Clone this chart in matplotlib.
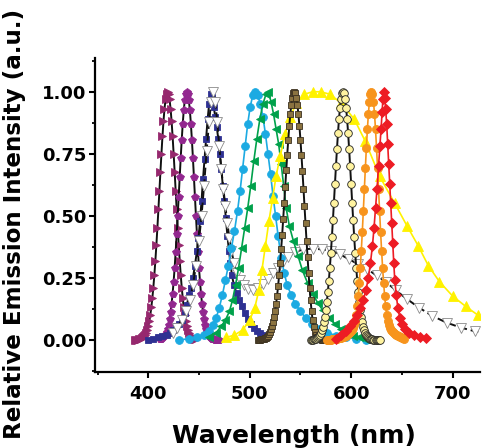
import matplotlib
matplotlib.use("Agg")
import matplotlib.pyplot as plt
from matplotlib.ticker import MultipleLocator

plt.rcParams['font.family'] = ['DejaVu Sans']

# ---------------- data ----------------
# 1: magenta right triangles, 1 nm grid starting at 387 nm
s1_start = 387
s1_y = [0.000, 0.001, 0.001, 0.001, 0.002, 0.003, 0.005, 0.007, 0.010, 0.015,
        0.021, 0.030, 0.042, 0.057, 0.076, 0.101, 0.131, 0.168, 0.211, 0.262,
        0.319, 0.383, 0.452, 0.526, 0.602, 0.678, 0.751, 0.820, 0.881, 0.931,
        0.969, 0.992, 1.000, 0.992, 0.969, 0.931, 0.881, 0.820, 0.751, 0.678,
        0.602, 0.526, 0.452, 0.383, 0.319, 0.262, 0.211, 0.168, 0.131, 0.101,
        0.076, 0.057, 0.042, 0.030, 0.021, 0.015, 0.010, 0.007, 0.005, 0.003, 0.002]

# 2: purple pentagons, 1 nm grid starting at 412 nm
s2_start = 412
s2_y = [0.003, 0.005, 0.007, 0.011, 0.016, 0.023, 0.033, 0.045, 0.062, 0.084,
        0.112, 0.146, 0.187, 0.235, 0.291, 0.355, 0.425, 0.500, 0.578, 0.657,
        0.735, 0.807, 0.872, 0.926, 0.966, 0.991, 1.000, 0.991, 0.966, 0.926,
        0.872, 0.807, 0.735, 0.657, 0.578, 0.500, 0.425, 0.355, 0.291, 0.235,
        0.187, 0.146, 0.112, 0.084, 0.062, 0.045, 0.033, 0.023, 0.016, 0.011,
        0.007, 0.005, 0.003, 0.002, 0.001, 0.001, 0.000, 0.000, 0.000]

# 3: navy squares
s3_x = [400, 405, 410, 414, 418, 421, 424, 427, 430, 433, 436, 438, 440, 442, 444,
        446, 448, 449.5, 451, 452.5, 454, 455.5, 457, 458.5, 460, 461.5, 463, 464.5,
        466, 467.5, 469, 470.5, 472, 473.5, 475, 476.5, 478, 479.5, 481, 482.5, 484.5,
        487, 489.5, 492, 495, 498, 501, 504, 507, 510, 513, 516]
s3_y = [0.0, 0.005, 0.01, 0.015, 0.022, 0.03, 0.04, 0.055, 0.065, 0.08, 0.11, 0.14,
        0.18, 0.21, 0.25, 0.30, 0.36, 0.41, 0.48, 0.56, 0.65, 0.73, 0.81, 0.89, 0.95,
        0.99, 0.98, 0.94, 0.90, 0.86, 0.81, 0.75, 0.69, 0.62, 0.56, 0.49, 0.42, 0.36,
        0.31, 0.26, 0.22, 0.19, 0.16, 0.135, 0.11, 0.085, 0.063, 0.048, 0.038, 0.03,
        0.02, 0.012]

# 4: white inverted triangles (dual emission)
s4_x = [424, 428, 433, 437, 441, 444, 447, 450, 452.5, 455, 457.5, 460, 462, 464,
        466, 468, 470, 472, 474, 476, 478, 480, 482, 484.5, 487, 490, 494, 498, 503,
        508, 513, 518, 523, 528, 533, 538, 545, 553, 562, 571, 580, 589, 598, 607,
        616, 625, 634, 644, 655, 667, 680, 694, 708, 722, 735]
s4_y = [0.027, 0.047, 0.08, 0.115, 0.16, 0.22, 0.30, 0.40, 0.50, 0.62, 0.76, 0.88,
        0.96, 1.0, 0.96, 0.88, 0.78, 0.69, 0.61, 0.54, 0.47, 0.41, 0.36, 0.31, 0.27,
        0.24, 0.22, 0.205, 0.20, 0.21, 0.225, 0.245, 0.27, 0.29, 0.315, 0.335, 0.355,
        0.365, 0.368, 0.365, 0.36, 0.345, 0.325, 0.305, 0.285, 0.26, 0.235, 0.20,
        0.165, 0.13, 0.097, 0.07, 0.05, 0.035, 0.025]

# 5: cyan circles
s5_x = [430, 440, 448, 455, 460, 464, 467, 470, 473, 476, 479, 482, 485, 488, 490.5,
        493, 495.5, 498, 500.5, 503, 505.5, 508, 510.5, 513, 515.5, 518, 520.5, 523,
        525.5, 528, 531, 534, 537, 541, 545, 550, 555, 561, 568, 576, 585, 595, 605, 615]
s5_y = [0.0, 0.005, 0.01, 0.02, 0.035, 0.06, 0.09, 0.13, 0.18, 0.24, 0.30, 0.37,
        0.44, 0.52, 0.60, 0.69, 0.78, 0.87, 0.94, 0.985, 1.0, 0.985, 0.95, 0.90, 0.83,
        0.75, 0.67, 0.58, 0.50, 0.42, 0.33, 0.27, 0.22, 0.18, 0.145, 0.115, 0.09,
        0.065, 0.045, 0.03, 0.018, 0.01, 0.005, 0.0]

# 6: green left triangles
s6_x = [460, 467, 472, 476, 480, 483, 486, 489, 492, 495, 498, 501, 504, 507, 510,
        513, 516, 518.5, 521, 523.5, 526, 528.5, 531, 533.5, 536, 539, 543, 547.5,
        552, 557, 562, 567, 572, 578, 584, 590, 596, 602, 608, 614]
s6_y = [0.01, 0.03, 0.055, 0.08, 0.115, 0.16, 0.22, 0.29, 0.37, 0.45, 0.53, 0.62,
        0.72, 0.81, 0.89, 0.95, 0.99, 1.0, 0.96, 0.91, 0.85, 0.79, 0.71, 0.62, 0.53,
        0.46, 0.40, 0.34, 0.28, 0.23, 0.185, 0.15, 0.12, 0.09, 0.065, 0.045, 0.03,
        0.018, 0.01, 0.005]

# 7: yellow triangles (broad)
s7_x = [477, 485, 493, 500, 505, 509, 512, 515.5, 519, 522.5, 526, 530, 535, 540,
        546, 554, 562, 570, 579, 590, 603, 614, 628, 643, 655, 666, 676, 687, 700,
        713, 725]
s7_y = [0.01, 0.02, 0.04, 0.08, 0.13, 0.20, 0.28, 0.38, 0.48, 0.57, 0.66, 0.74,
        0.83, 0.90, 0.955, 0.99, 1.0, 1.0, 0.99, 0.955, 0.89, 0.80, 0.66, 0.55, 0.46,
        0.38, 0.30, 0.235, 0.177, 0.135, 0.10]

# 8: olive squares, 1 nm grid starting at 508 nm
s8_start = 508
s8_y = [0.000, 0.000, 0.001, 0.002, 0.002, 0.003, 0.005, 0.007, 0.009, 0.013,
        0.018, 0.024, 0.032, 0.043, 0.056, 0.072, 0.092, 0.117, 0.145, 0.179,
        0.218, 0.262, 0.311, 0.366, 0.424, 0.487, 0.551, 0.617, 0.683, 0.747,
        0.807, 0.862, 0.909, 0.948, 0.976, 0.994, 1.000, 0.994, 0.976, 0.948,
        0.909, 0.862, 0.807, 0.745, 0.680, 0.610, 0.540, 0.470, 0.400, 0.335,
        0.270, 0.210, 0.160, 0.115, 0.080, 0.053, 0.034, 0.021, 0.013, 0.008,
        0.005, 0.003, 0.002, 0.001, 0.000, 0.000, 0.000, 0.000, 0.000, 0.000,
        0.000, 0.000, 0.000]

# 9: light-yellow circles, 1 nm grid starting at 560 nm
s9_start = 560
s9_y = [0.001, 0.001, 0.001, 0.002, 0.003, 0.005, 0.007, 0.010, 0.015, 0.021,
        0.029, 0.040, 0.054, 0.072, 0.094, 0.121, 0.154, 0.194, 0.239, 0.291,
        0.350, 0.414, 0.482, 0.553, 0.627, 0.699, 0.769, 0.833, 0.890, 0.936,
        0.971, 0.993, 1.000, 0.993, 0.971, 0.936, 0.890, 0.833, 0.769, 0.699,
        0.627, 0.553, 0.482, 0.414, 0.350, 0.291, 0.239, 0.194, 0.154, 0.121,
        0.094, 0.072, 0.054, 0.040, 0.029, 0.021, 0.015, 0.010, 0.007, 0.005,
        0.003, 0.002, 0.001, 0.001, 0.001, 0.000, 0.000, 0.000, 0.000]

# 10: orange circles, 1 nm grid starting at 576 nm
s10_start = 576
s10_y = [0.000, 0.000, 0.001, 0.001, 0.001, 0.002, 0.002, 0.003, 0.003, 0.004,
         0.005, 0.006, 0.007, 0.008, 0.009, 0.011, 0.012, 0.014, 0.016, 0.018,
         0.021, 0.024, 0.027, 0.031, 0.036, 0.042, 0.050, 0.060, 0.073, 0.101,
         0.135, 0.178, 0.230, 0.291, 0.360, 0.437, 0.521, 0.607, 0.693, 0.775,
         0.849, 0.912, 0.960, 0.990, 1.000, 0.990, 0.960, 0.912, 0.849, 0.775,
         0.693, 0.607, 0.521, 0.437, 0.360, 0.291, 0.230, 0.178, 0.135, 0.101,
         0.078, 0.062, 0.050, 0.042, 0.036, 0.031, 0.027, 0.024, 0.021, 0.019,
         0.017, 0.015, 0.013, 0.011, 0.009, 0.007, 0.005]

# 11: red diamonds
s11_x = [585, 590, 595, 599, 603, 606, 609, 612, 614.5, 617, 619, 621, 622.5, 624,
         625.5, 627, 628.3, 629.5, 630.5, 631.3, 632, 633, 634, 635, 636, 637, 638,
         639, 640, 641, 642, 643, 644.5, 646, 648, 650, 653, 657, 662, 668, 674]
s11_y = [0.005, 0.02, 0.035, 0.055, 0.075, 0.10, 0.13, 0.16, 0.20, 0.25, 0.31, 0.38,
         0.45, 0.53, 0.61, 0.70, 0.78, 0.85, 0.92, 0.97, 1.0, 0.975, 0.93, 0.87,
         0.79, 0.71, 0.63, 0.55, 0.47, 0.39, 0.31, 0.24, 0.18, 0.13, 0.09, 0.065,
         0.045, 0.03, 0.02, 0.012, 0.006]

x_ticks = [400, 500, 600, 700]
y_ticks = [0.00, 0.25, 0.50, 0.75, 1.00]
y_tick_labels = ['0.00', '0.25', '0.50', '0.75', '1.00']


def grid(start, ys):
    return list(range(start, start + len(ys)))


fig = plt.figure(figsize=(4.82, 4.48), dpi=100)
W, H = 482, 448
ax = fig.add_axes([95 / W, (H - 372) / H, (480 - 95) / W, (372 - 58) / H])

blk = '#111111'
lwk = 1.4
lwc = 1.2

series = [
    dict(x=grid(s1_start, s1_y), y=s1_y, m='>', mfc='#96286E', mec='#96286E', lc=blk, ms=5.8, ls='-', lw=lwk),
    dict(x=grid(s2_start, s2_y), y=s2_y, m='p', mfc='#92278F', mec='#92278F', lc=blk, ms=6.0, ls='-', lw=lwk),
    dict(x=s3_x, y=s3_y, m='s', mfc='#2E3192', mec='#2E3192', lc=blk, ms=4.5, ls='-', lw=lwk),
    dict(x=s4_x, y=s4_y, m='v', mfc='white', mec='#8a8a8a', lc=blk, ms=6.6, ls=(0, (4, 2)), lw=lwk),
    dict(x=s5_x, y=s5_y, m='o', mfc='#1CAAE2', mec='#1CAAE2', lc='#1CAAE2', ms=5.6, ls='-', lw=lwc),
    dict(x=s6_x, y=s6_y, m='<', mfc='#00A14B', mec='#00A14B', lc='#00A14B', ms=6.0, ls='-', lw=lwc),
    dict(x=s7_x, y=s7_y, m='^', mfc='#FFF200', mec='#FFF200', lc='#FFF200', ms=6.6, ls='-', lw=lwc),
    dict(x=grid(s8_start, s8_y), y=s8_y, m='s', mfc='#8B7340', mec='#3a3020', lc=blk, ms=4.8, ls='-', lw=lwk),
    dict(x=grid(s9_start, s9_y), y=s9_y, m='o', mfc='#FFF3A0', mec='#222222', lc=blk, ms=5.5, ls='-', lw=lwk),
    dict(x=grid(s10_start, s10_y), y=s10_y, m='o', mfc='#F7941D', mec='#F7941D', lc='#F7941D', ms=5.8, ls='-', lw=lwc),
    dict(x=s11_x, y=s11_y, m='D', mfc='#ED1C24', mec='#ED1C24', lc='#ED1C24', ms=4.8, ls='-', lw=lwc),
]

for i, s in enumerate(series):
    ax.plot(s['x'], s['y'], color=s['lc'], linestyle=s['ls'], linewidth=s['lw'], zorder=2 + 2 * i)
    ax.plot(s['x'], s['y'], linestyle='none', marker=s['m'], markersize=s['ms'],
            markerfacecolor=s['mfc'], markeredgecolor=s['mec'], markeredgewidth=0.6,
            zorder=3 + 2 * i)

ax.set_xlim(347.5, 727)
ax.set_ylim(-0.129, 1.136)

for side in ['top', 'right']:
    ax.spines[side].set_visible(False)
for side in ['left', 'bottom']:
    ax.spines[side].set_linewidth(1.6)

ax.set_xticks(x_ticks)
ax.set_yticks(y_ticks)
ax.set_yticklabels(y_tick_labels)
ax.xaxis.set_minor_locator(MultipleLocator(50))
ax.yaxis.set_minor_locator(MultipleLocator(0.125))
ax.tick_params(axis='both', which='major', direction='out', length=4, width=1.5,
               labelsize=13, pad=2)
ax.tick_params(axis='both', which='minor', direction='out', length=2.5, width=1.3)
ax.tick_params(axis='x', which='major', pad=5)
for lab in ax.get_xticklabels() + ax.get_yticklabels():
    lab.set_fontweight('bold')

fig.text(294 / W, 1 - 436 / H, 'Wavelength (nm)', ha='center', va='center',
         fontsize=18, fontweight='bold')
fig.text(15 / W, 1 - 224 / H, 'Relative Emission Intensity (a.u.)', ha='center', va='center',
         rotation=90, fontsize=16.6, fontweight='bold')

fig.savefig('out.png', dpi=100)
